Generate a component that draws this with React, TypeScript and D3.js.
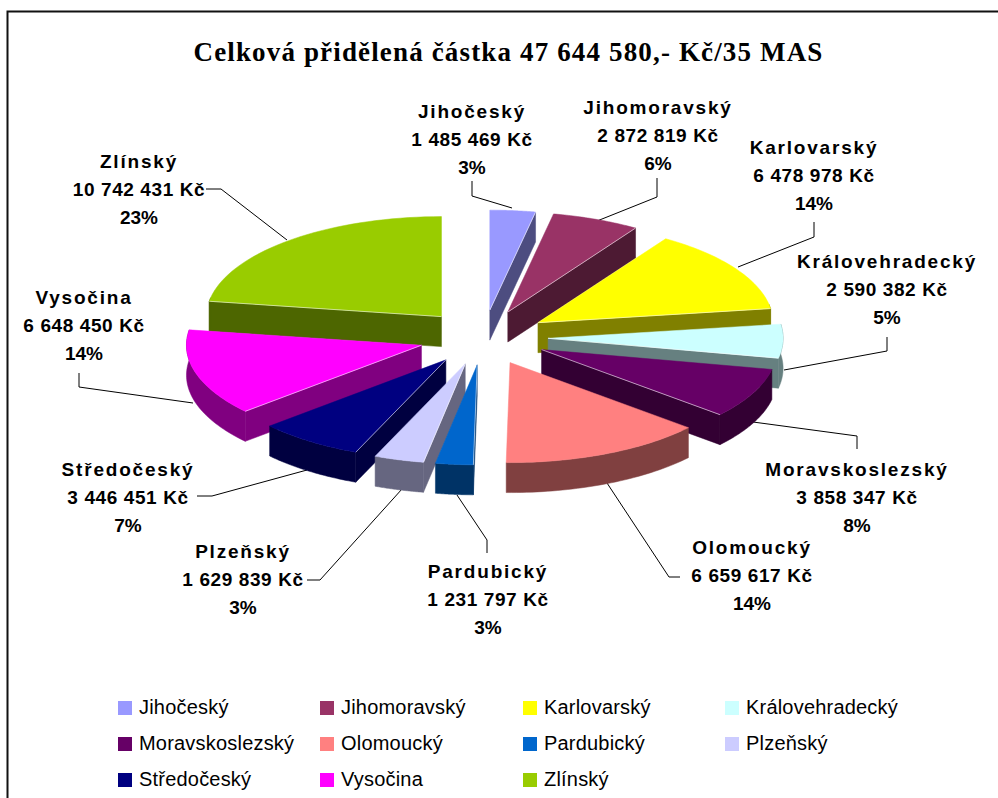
import React from "react";
import * as d3 from "d3";

const names = ["Jihočeský","Jihomoravský","Karlovarský","Královehradecký","Moravskoslezský","Olomoucký","Pardubický","Plzeňský","Středočeský","Vysočina","Zlínský"];
const amounts = [1485469,2872819,6478978,2590382,3858347,6659617,1231797,1629839,3446451,6648450,10742431];
const amountLabels = ["1 485 469 Kč","2 872 819 Kč","6 478 978 Kč","2 590 382 Kč","3 858 347 Kč","6 659 617 Kč","1 231 797 Kč","1 629 839 Kč","3 446 451 Kč","6 648 450 Kč","10 742 431 Kč"];
const percents = ["3%","6%","14%","5%","8%","14%","3%","3%","7%","14%","23%"];
const topColors = ["#9999FF","#993366","#FFFF00","#CCFFFF","#660066","#FF8080","#0066CC","#CCCCFF","#000080","#FF00FF","#99CC00"];
const sideColors = ["#4D4D80","#4D1A33","#808000","#668080","#330033","#804040","#003366","#666680","#000040","#800080","#4D6600"];
const labelCenters = [[472,112],[658,108],[814,148],[887,262],[857,470],[752,548],[488,572],[243,552],[128,470],[84,298],[139,162]];
const leaders = [
  [[472,181],[472,196],[512,208]],
  [[657,178],[657,197],[597,221]],
  [[814,222],[814,237],[738,267]],
  [[887,337],[887,351],[784,370]],
  [[857,449],[857,436],[753,422]],
  [[680,577],[669,577],[607,483]],
  [[487,553],[487,540],[457,495]],
  [[307,580],[320,580],[402,489]],
  [[197,496],[212,496],[307,470]],
  [[79,373],[79,387],[193,403]],
  [[206,189],[221,189],[287,240]],
];

const title = "Celková přidělená částka 47 644 580,- Kč/35 MAS";
const cx = 483.5, cy = 337.5, rx = 235, ry = 100, depth = 30, explode = 0.275;

const pieGen = d3.pie<number>().sort(null).value(d => d).startAngle(0).endAngle(2 * Math.PI);
const arcs = pieGen(amounts);

const ptOf = (a: number, r = 1, ox = 0, oy = 0): [number, number] => [
  cx + ox + rx * r * Math.sin(a),
  cy + oy - ry * r * Math.cos(a),
];

const line = d3.line<[number, number]>();
const order = arcs.map((_, i) => i).sort((a, b) => {
  const ma = (arcs[a].startAngle + arcs[a].endAngle) / 2;
  const mb = (arcs[b].startAngle + arcs[b].endAngle) / 2;
  return Math.cos(mb) - Math.cos(ma);
});

function Slice({ i }: { i: number }) {
  const s = arcs[i].startAngle, e = arcs[i].endAngle, m = (s + e) / 2;
  const ox = rx * explode * Math.sin(m), oy = -ry * explode * Math.cos(m);
  const apex = ptOf(0, 0, ox, oy);
  const angles = d3.range(0, 41).map(k => s + ((e - s) * k) / 40);
  const rim = angles.map(a => ptOf(a, 1, ox, oy));
  const down = (p: [number, number]): [number, number] => [p[0], p[1] + depth];
  const rimFront = rim.filter((_, k) => Math.cos(angles[k]) < 0.02 || Math.abs(Math.sin(angles[k])) > 0.98);
  const showStart = Math.sin(s) < 0;
  const showEnd = Math.sin(e) > 0;
  const first = rim[0], last = rim[rim.length - 1];
  return (
    <g>
      {showStart && <path d={line([apex, first, down(first), down(apex)])! + "Z"} fill={sideColors[i]} stroke={sideColors[i]} strokeWidth={0.5} />}
      {showEnd && <path d={line([apex, last, down(last), down(apex)])! + "Z"} fill={sideColors[i]} stroke={sideColors[i]} strokeWidth={0.5} />}
      {rimFront.length > 1 && <path d={line([...rimFront, ...rimFront.slice().reverse().map(down)])! + "Z"} fill={sideColors[i]} stroke={sideColors[i]} strokeWidth={0.5} />}
      <path d={line([apex, ...rim])! + "Z"} fill={topColors[i]} stroke={topColors[i]} strokeWidth={0.5} />
      {showStart && <path d={line([apex, first])!} stroke="#fff" strokeOpacity={0.7} strokeWidth={0.8} fill="none" />}
      {showEnd && <path d={line([apex, last])!} stroke="#fff" strokeOpacity={0.7} strokeWidth={0.8} fill="none" />}
    </g>
  );
}

const legendCols = [118, 320, 523, 725];
const legendRows = [708, 744, 780];

export default function App() {
  return (
    <svg width={998} height={798} style={{ position: "absolute", left: 0, top: 0, background: "#fff" }}>
      <path d="M7.5 798V11.5H998" fill="none" stroke="#111" strokeWidth={2} />
      <text x={508.5} y={61} textAnchor="middle" fontFamily="Liberation Serif" fontWeight="bold" fontSize={27} letterSpacing={1.15}>{title}</text>
      {leaders.map((l, i) => <path key={i} d={line(l as [number, number][])!} fill="none" stroke="#000" strokeWidth={1} />)}
      {order.map(i => <Slice key={i} i={i} />)}
      {names.map((n, i) => (
        <text key={n} textAnchor="middle" fontFamily="Liberation Sans" fontWeight="bold" fontSize={19} fill="#000">
          <tspan x={labelCenters[i][0]} y={labelCenters[i][1] + 6} letterSpacing={1.8}>{n}</tspan>
          <tspan x={labelCenters[i][0]} y={labelCenters[i][1] + 34} letterSpacing={0.6}>{amountLabels[i]}</tspan>
          <tspan x={labelCenters[i][0]} y={labelCenters[i][1] + 62}>{percents[i]}</tspan>
        </text>
      ))}
      {names.map((n, i) => {
        const x = legendCols[i % 4], y = legendRows[Math.floor(i / 4)];
        return (
          <g key={n}>
            <rect x={x} y={y - 7} width={14} height={14} fill={topColors[i]} />
            <text x={x + 21} y={y + 6} fontFamily="Liberation Sans" fontSize={20} letterSpacing={0.2} fill="#000">{n}</text>
          </g>
        );
      })}
    </svg>
  );
}
